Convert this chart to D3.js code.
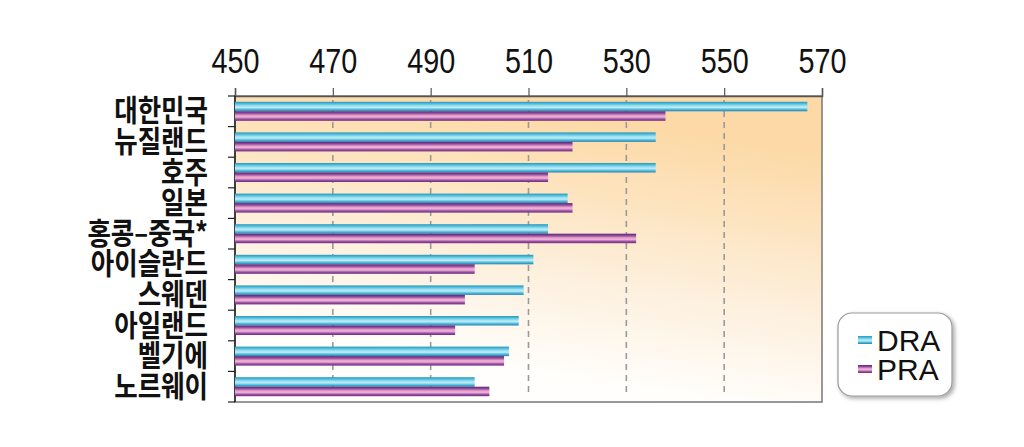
<!DOCTYPE html>
<html>
<head>
<meta charset="utf-8">
<script src="https://cdn.jsdelivr.net/npm/d3@7"></script>
<style>
  html, body { margin: 0; padding: 0; background: #fff; }
  svg { display: block; }
</style>
</head>
<body>
<svg id="chart"></svg>
<script>
const countries = ['대한민국', '뉴질랜드', '호주', '일본', '홍콩–중국*', '아이슬란드', '스웨덴', '아일랜드', '벨기에', '노르웨이'];
const dra = [567, 536, 536, 518, 514, 511, 509, 508, 506, 499];
const pra = [538, 519, 514, 519, 532, 499, 497, 495, 505, 502];
const tickValues = [450, 470, 490, 510, 530, 550, 570];
const seriesNames = ['DRA', 'PRA'];

const width = 1024, height = 447;
const svg = d3.select('#chart').attr('width', width).attr('height', height);

const x = d3.scaleLinear().domain([450, 570]).range([235, 822]);
const y = d3.scaleBand().domain(countries).range([96, 402]);
const barH = 9.5;

const defs = svg.append('defs');

// plot background: peach at the top fading to white at the bottom
const bg = defs.append('linearGradient').attr('id', 'bg')
  .attr('x1', 0.1).attr('y1', 1).attr('x2', 0.4).attr('y2', 0);
[[0, '#ffffff'], [0.2, '#fffefb'], [0.5, '#fdf0de'], [0.8, '#fde2bb'], [1, '#fcd9a6']]
  .forEach(s => bg.append('stop').attr('offset', s[0]).attr('stop-color', s[1]));

const gradDra = defs.append('linearGradient').attr('id', 'gDra')
  .attr('x1', 0).attr('y1', 0).attr('x2', 0).attr('y2', 1);
[[0, '#2f93b5'], [0.18, '#45bcdb'], [0.45, '#a6e2f2'], [0.6, '#bfeaf6'], [0.8, '#4fbcdc'], [1, '#2a7fae']]
  .forEach(s => gradDra.append('stop').attr('offset', s[0]).attr('stop-color', s[1]));

const gradPra = defs.append('linearGradient').attr('id', 'gPra')
  .attr('x1', 0).attr('y1', 0).attr('x2', 0).attr('y2', 1);
[[0, '#5e2673'], [0.2, '#8c4a9c'], [0.45, '#e9a2cc'], [0.6, '#f0b3d6'], [0.82, '#9a4fa4'], [1, '#6a2c7c']]
  .forEach(s => gradPra.append('stop').attr('offset', s[0]).attr('stop-color', s[1]));

const shadow = defs.append('filter').attr('id', 'shadow')
  .attr('x', '-20%').attr('y', '-20%').attr('width', '150%').attr('height', '150%');
shadow.append('feDropShadow').attr('dx', 2).attr('dy', 2).attr('stdDeviation', 2)
  .attr('flood-color', '#000').attr('flood-opacity', 0.35);

// plot area
svg.append('rect')
  .attr('x', x.range()[0]).attr('y', 96)
  .attr('width', x.range()[1] - x.range()[0]).attr('height', 306)
  .attr('fill', 'url(#bg)')
  .attr('stroke', '#777').attr('stroke-width', 1.5);

// dashed grid lines
svg.append('g')
  .selectAll('line')
  .data(tickValues.slice(1, -1))
  .join('line')
  .attr('x1', d => x(d)).attr('x2', d => x(d))
  .attr('y1', 100).attr('y2', 396)
  .attr('stroke', '#9a9a9a').attr('stroke-width', 1.6)
  .attr('stroke-dasharray', '6,5');

// top axis
const topAxis = svg.append('g')
  .attr('transform', 'translate(0,96)')
  .call(d3.axisTop(x).tickValues(tickValues).tickSize(8).tickPadding(0));
topAxis.select('.domain').attr('stroke', '#555').attr('stroke-width', 1.5);
topAxis.selectAll('.tick line').attr('stroke', '#555').attr('stroke-width', 1.2);
topAxis.selectAll('.tick text')
  .attr('y', 0).attr('dy', 0)
  .attr('transform', 'translate(0,-23) scale(0.8,1)')
  .attr('fill', '#111')
  .style('font-family', '"Liberation Sans", Arial, sans-serif')
  .style('font-size', '36px');

// left axis: line with ticks between categories
const leftAxis = svg.append('g');
leftAxis.append('line')
  .attr('x1', 235).attr('x2', 235).attr('y1', 96).attr('y2', 402)
  .attr('stroke', '#222').attr('stroke-width', 1.5);
leftAxis.selectAll('line.tk')
  .data(d3.range(countries.length + 1))
  .join('line')
  .attr('class', 'tk')
  .attr('x1', 228).attr('x2', 235)
  .attr('y1', i => 96 + i * y.step()).attr('y2', i => 96 + i * y.step())
  .attr('stroke', '#222').attr('stroke-width', 1.2);

// category labels
svg.append('g')
  .selectAll('text')
  .data(countries)
  .join('text')
  .attr('transform', d => `translate(208,${y(d) + y.bandwidth() / 2 + 10}) scale(0.85,1)`)
  .attr('text-anchor', 'end')
  .attr('fill', '#111')
  .style('font-family', '"Noto Sans CJK KR", sans-serif')
  .style('font-weight', 'bold')
  .style('font-size', '30px')
  .text(d => d);

// bars
const bars = svg.append('g');
bars.selectAll('rect.dra')
  .data(countries)
  .join('rect')
  .attr('class', 'dra')
  .attr('x', x(450))
  .attr('y', d => y(d) + y.bandwidth() / 2 - barH)
  .attr('width', (d, i) => x(dra[i]) - x(450))
  .attr('height', barH)
  .attr('fill', 'url(#gDra)');
bars.selectAll('rect.pra')
  .data(countries)
  .join('rect')
  .attr('class', 'pra')
  .attr('x', x(450))
  .attr('y', d => y(d) + y.bandwidth() / 2)
  .attr('width', (d, i) => x(pra[i]) - x(450))
  .attr('height', barH)
  .attr('fill', 'url(#gPra)');

// legend
const legend = svg.append('g').attr('transform', 'translate(838,313)');
legend.append('rect')
  .attr('width', 114).attr('height', 83).attr('rx', 14)
  .attr('fill', '#fff').attr('stroke', '#999').attr('stroke-width', 1.2)
  .attr('filter', 'url(#shadow)');
const item = legend.selectAll('g.item')
  .data(seriesNames)
  .join('g')
  .attr('class', 'item')
  .attr('transform', (d, i) => `translate(20,${27 + i * 29})`);
item.append('rect')
  .attr('x', 0).attr('y', -4).attr('width', 14).attr('height', 8)
  .attr('fill', (d, i) => i === 0 ? 'url(#gDra)' : 'url(#gPra)');
item.append('text')
  .attr('x', 19).attr('y', 11)
  .attr('fill', '#111')
  .style('font-family', '"Liberation Sans", Arial, sans-serif')
  .style('font-size', '30px')
  .text(d => d);
</script>
</body>
</html>
